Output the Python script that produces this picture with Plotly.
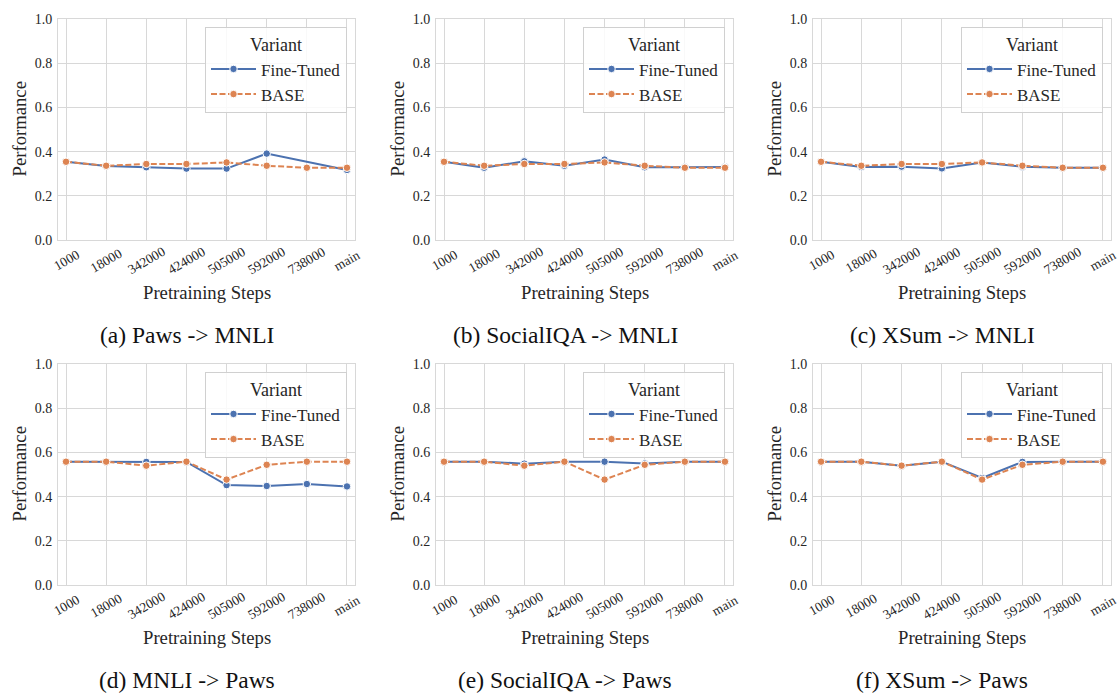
import plotly.graph_objects as go

steps = ["1000", "18000", "342000", "424000", "505000", "592000", "738000", "main"]
captions = ["(a) Paws -> MNLI", "(b) SocialIQA -> MNLI", "(c) XSum -> MNLI",
            "(d) MNLI -> Paws", "(e) SocialIQA -> Paws", "(f) XSum -> Paws"]

ft_a = [0.354, 0.335, 0.329, 0.323, 0.323, 0.391, None, 0.317]
base_a = [0.354, 0.336, 0.344, 0.344, 0.351, 0.336, 0.327, 0.327]
ft_b = [0.354, 0.327, 0.356, 0.336, 0.364, 0.329, 0.329, 0.330]
base_b = [0.354, 0.336, 0.344, 0.344, 0.351, 0.336, 0.327, 0.327]
ft_c = [0.354, 0.330, 0.332, 0.324, 0.351, 0.332, 0.327, 0.327]
base_c = [0.354, 0.336, 0.344, 0.344, 0.351, 0.336, 0.327, 0.327]
ft_d = [0.558, 0.558, 0.557, 0.557, 0.452, 0.448, 0.457, 0.446]
base_d = [0.558, 0.558, 0.540, 0.558, 0.477, 0.544, 0.558, 0.558]
ft_e = [0.558, 0.558, 0.549, 0.558, 0.558, 0.550, 0.558, 0.558]
base_e = [0.558, 0.558, 0.540, 0.558, 0.477, 0.544, 0.558, 0.558]
ft_f = [0.558, 0.558, 0.540, 0.558, 0.484, 0.557, 0.558, 0.558]
base_f = [0.558, 0.558, 0.540, 0.558, 0.477, 0.544, 0.558, 0.558]

ft_all = [ft_a, ft_b, ft_c, ft_d, ft_e, ft_f]
base_all = [base_a, base_b, base_c, base_d, base_e, base_f]

W, H = 1120, 693
FONT = "Liberation Serif"
BLUE = "#4C72B0"
ORANGE = "#DD8452"
GRID = "#d8d8d8"
TXT = "#262626"

xpix = [(58, 355), (436, 733), (813, 1111)]
ypix = [(19, 240), (364, 585)]
cap_x = [187, 565, 942]
cap_y = [335, 680]

fig = go.Figure()
annotations = []
for i in range(6):
    r, c = divmod(i, 3)
    n = i + 1
    xs = "" if n == 1 else str(n)
    xa, ya = "x" + xs, "y" + xs
    lg = "legend" + ("" if n == 1 else str(n))
    fig.add_trace(go.Scatter(
        x=steps, y=ft_all[i], name="Fine-Tuned", mode="lines+markers",
        xaxis=xa, yaxis=ya, legend=lg, connectgaps=True,
        line=dict(color=BLUE, width=2),
        marker=dict(size=7.5, color=BLUE, line=dict(color="white", width=1))))
    fig.add_trace(go.Scatter(
        x=steps, y=base_all[i], name="BASE", mode="lines+markers",
        xaxis=xa, yaxis=ya, legend=lg, connectgaps=True,
        line=dict(color=ORANGE, width=2, dash="6px,2.5px"),
        marker=dict(size=7.5, color=ORANGE, line=dict(color="white", width=1))))

    x0, x1 = xpix[c]
    y0, y1 = ypix[r]
    fig.layout["xaxis" + xs] = dict(
        domain=[x0 / W, x1 / W], anchor=ya, type="category", range=[-0.2, 7.2],
        automargin=False,
        showgrid=True, gridcolor=GRID, gridwidth=1, showline=True, linecolor=GRID,
        mirror=True, ticks="", showticklabels=False, zeroline=False)
    fig.layout["yaxis" + xs] = dict(
        domain=[(H - y1) / H, (H - y0) / H], anchor=xa, range=[0, 1],
        automargin=False, tickvals=[0, 0.2, 0.4, 0.6, 0.8, 1.0],
        tickformat=".1f", showgrid=True, gridcolor=GRID, gridwidth=1, showline=True,
        linecolor=GRID, mirror=True, ticks="", zeroline=False, ticklabelstandoff=2,
        tickfont=dict(family=FONT, size=14, color=TXT))
    fig.layout[lg] = dict(
        x=(x1 - 8) / W, y=(H - y0 - 8) / H, xanchor="right", yanchor="top",
        bgcolor="rgba(255,255,255,0.85)", bordercolor="#d0d0d0", borderwidth=1,
        font=dict(family=FONT, size=17, color=TXT), itemwidth=45,
        title=dict(text="Variant", side="top center", font=dict(family=FONT, size=18, color=TXT)),
        tracegroupgap=0)
    for j, s in enumerate(steps):
        annotations.append(dict(
            x=j, xref=xa, y=(H - (y1 + 20)) / H, yref="paper", text=s, showarrow=False,
            textangle=-30, xanchor="center", yanchor="middle",
            font=dict(family=FONT, size=13.5, color=TXT)))
    annotations.append(dict(
        x=(x0 + x1) / 2 / W, y=(H - (y1 + 52)) / H, xref="paper", yref="paper",
        text="Pretraining Steps", showarrow=False, xanchor="center", yanchor="middle",
        font=dict(family=FONT, size=18.7, color=TXT)))
    annotations.append(dict(
        x=(x0 - 39) / W, y=(H - (y0 + y1) / 2) / H, xref="paper", yref="paper",
        text="Performance", showarrow=False, textangle=-90, xanchor="center", yanchor="middle",
        font=dict(family=FONT, size=18.7, color=TXT)))
    annotations.append(dict(
        x=cap_x[c] / W, y=(H - cap_y[r]) / H, xref="paper", yref="paper",
        text=captions[i], showarrow=False, xanchor="center", yanchor="middle",
        font=dict(family=FONT, size=23.5, color="#111111")))

fig.update_layout(
    width=W, height=H, margin=dict(l=0, r=0, t=0, b=0, autoexpand=False),
    paper_bgcolor="white", plot_bgcolor="white",
    annotations=annotations, font=dict(family=FONT, color=TXT))

fig.write_html("out.html", config={"displayModeBar": False},
               post_script="document.body.style.margin='0px';")
